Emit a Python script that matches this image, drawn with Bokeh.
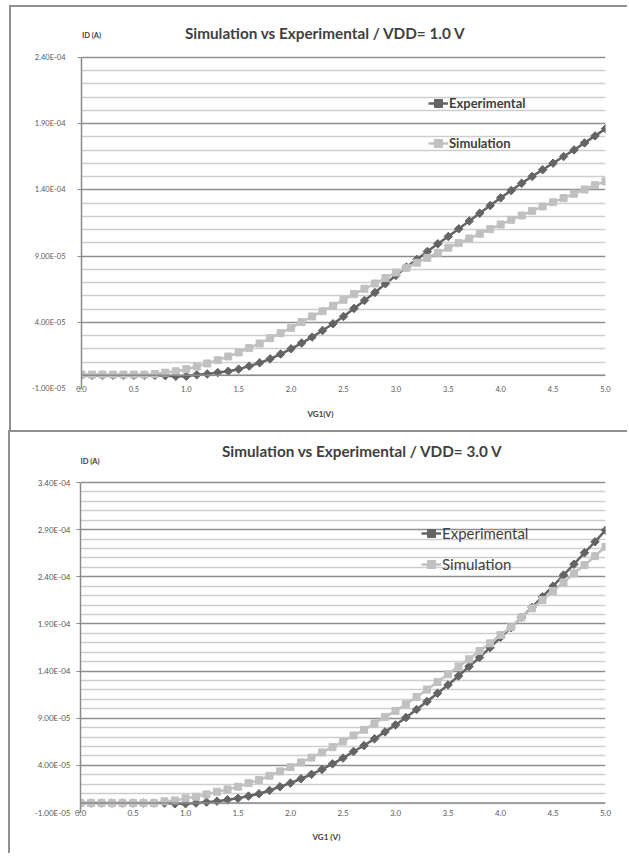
from bokeh.plotting import figure
from bokeh.models import (FixedTicker, CustomJSTickFormatter, Label, Legend, LegendItem,
                          Span, Title)
from bokeh.layouts import column
from bokeh.embed import file_html
from bokeh.resources import INLINE

# ---------------- data (currents in units of 1e-5 A) ----------------
SCALE = 1e-5
vg1 = [0.0, 0.1, 0.2, 0.3, 0.4, 0.5, 0.6, 0.7, 0.8, 0.9,
       1.0, 1.1, 1.2, 1.3, 1.4, 1.5, 1.6, 1.7, 1.8, 1.9,
       2.0, 2.1, 2.2, 2.3, 2.4, 2.5, 2.6, 2.7, 2.8, 2.9,
       3.0, 3.1, 3.2, 3.3, 3.4, 3.5, 3.6, 3.7, 3.8, 3.9,
       4.0, 4.1, 4.2, 4.3, 4.4, 4.5, 4.6, 4.7, 4.8, 4.9, 5.0]

exp_vdd1 = [0.0, 0.0, 0.0, 0.0, 0.0, 0.0, 0.0, 0.0, -0.03, -0.08,
            -0.08, 0.03, 0.1, 0.2, 0.3, 0.46, 0.69, 0.94, 1.24, 1.6,
            2.0, 2.43, 2.88, 3.38, 3.89, 4.44, 5.05, 5.65, 6.25, 6.91,
            7.54, 8.17, 8.75, 9.35, 9.93, 10.48, 11.06, 11.65, 12.24, 12.82,
            13.4, 13.95, 14.5, 15.02, 15.52, 16.02, 16.52, 17.02, 17.55, 18.08, 18.62]
sim_vdd1 = [0.05, 0.05, 0.05, 0.05, 0.05, 0.05, 0.05, 0.1, 0.2, 0.3,
            0.46, 0.66, 0.89, 1.14, 1.42, 1.72, 2.05, 2.4, 2.8, 3.18,
            3.58, 4.02, 4.44, 4.84, 5.25, 5.7, 6.13, 6.53, 6.93, 7.34,
            7.76, 8.12, 8.5, 8.87, 9.25, 9.63, 9.98, 10.33, 10.69, 11.04,
            11.39, 11.74, 12.07, 12.42, 12.75, 13.07, 13.38, 13.71, 14.03, 14.36, 14.64]

exp_vdd3 = [0.0, 0.0, 0.0, 0.0, 0.0, 0.0, 0.0, 0.0, 0.0, -0.08,
            -0.07, 0.0, 0.1, 0.2, 0.35, 0.5, 0.74, 0.99, 1.34, 1.73,
            2.12, 2.58, 3.05, 3.57, 4.16, 4.77, 5.47, 6.1, 6.81, 7.55,
            8.29, 9.07, 9.92, 10.77, 11.65, 12.53, 13.48, 14.48, 15.43, 16.49,
            17.58, 18.6, 19.7, 20.76, 21.89, 23.01, 24.18, 25.34, 26.55, 27.71, 28.94]
sim_vdd3 = [0.0, 0.0, 0.0, 0.0, 0.0, 0.0, 0.0, 0.0, 0.18, 0.28,
            0.5, 0.67, 0.92, 1.2, 1.45, 1.73, 2.12, 2.44, 2.9, 3.36,
            3.81, 4.31, 4.82, 5.37, 5.93, 6.53, 7.17, 7.77, 8.44, 9.14,
            9.78, 10.48, 11.26, 12.04, 12.85, 13.66, 14.48, 15.25, 16.13, 16.94,
            17.82, 18.65, 19.7, 20.65, 21.53, 22.48, 23.4, 24.36, 25.24, 26.19, 27.18]

x_ticks = [0.0, 0.5, 1.0, 1.5, 2.0, 2.5, 3.0, 3.5, 4.0, 4.5, 5.0]
x_tick_labels = ["0.0", "0.5", "1.0", "1.5", "2.0", "2.5", "3.0", "3.5", "4.0", "4.5", "5.0"]

y_ticks_1 = [-1e-5, 4e-5, 9e-5, 1.4e-4, 1.9e-4, 2.4e-4]
y_tick_labels_1 = ["-1.00E-05", "4.00E-05", "9.00E-05", "1.40E-04", "1.90E-04", "2.40E-04"]
y_ticks_3 = [-1e-5, 4e-5, 9e-5, 1.4e-4, 1.9e-4, 2.4e-4, 2.9e-4, 3.4e-4]
y_tick_labels_3 = ["-1.00E-05", "4.00E-05", "9.00E-05", "1.40E-04", "1.90E-04",
                   "2.40E-04", "2.90E-04", "3.40E-04"]

titles = ["Simulation vs Experimental / VDD= 1.0 V", "Simulation vs Experimental / VDD= 3.0 V"]
y_titles = ["ID (A)", "ID (A)"]
x_titles = ["VG1(V)", "VG1 (V)"]
series_names = ["Experimental", "Simulation"]

EXP_COLOR = "#646464"
SIM_COLOR = "#c0c0c0"
MAJOR_GRID = "#8e8e8e"
MINOR_GRID = "#cdcdcd"
AXIS_COLOR = "#8a8a8a"
TEXT_COLOR = "#404040"
TICK_COLOR = "#595959"
FONT = "Lato"

JS_FMT = """
let best = -1, bd = 1e99;
for (let i = 0; i < tks.length; i++) {
  const d = Math.abs(tks[i] - tick);
  if (d < bd) { bd = d; best = i; }
}
return (best >= 0 && bd < 1e-9) ? lbls[best] : "";
"""


def make_chart(cfg):
    ymin, ymax = cfg["yticks"][0], cfg["yticks"][-1]
    # plot area is (plot_h) px tall; the frame extends (extra_top) px higher to hold the title
    px_per_unit = cfg["plot_h"] / (ymax - ymin)
    y_top = ymax + cfg["extra_top"] / px_per_unit

    p = figure(width=cfg["w"], height=cfg["h"], x_range=(0, 5), y_range=(ymin, y_top),
               output_backend="svg", toolbar_location=None,
               min_border_left=cfg["bl"], min_border_right=cfg["br"],
               min_border_top=cfg["bt"], min_border_bottom=cfg["bb"])
    p.margin = cfg["margin"]
    p.outline_line_color = None
    p.background_fill_color = "white"
    p.border_fill_color = "white"
    p.styles = {"border-left": "2px solid #8f8f8f", "border-top": "2px solid #8f8f8f"}

    minor = [round(k * SCALE, 10) for k in range(-1, int(round(ymax / SCALE)) + 1)]
    minor = [m for m in minor if all(abs(m - t) > 1e-12 for t in cfg["yticks"])]
    yt = FixedTicker(ticks=cfg["yticks"], minor_ticks=minor)

    ax = p.yaxis[0]
    ax.ticker = yt
    ax.formatter = CustomJSTickFormatter(args=dict(tks=cfg["yticks"], lbls=cfg["ylabels"]), code=JS_FMT)
    ax.bounds = (ymin, ymax)
    ax.axis_line_color = AXIS_COLOR
    ax.axis_line_width = 1.5
    ax.major_tick_line_color = AXIS_COLOR
    ax.major_tick_out = 4
    ax.major_tick_in = 0
    ax.minor_tick_out = 0
    ax.minor_tick_in = 0
    ax.major_label_standoff = cfg["ystand"]
    ax.major_label_text_font = FONT
    ax.major_label_text_font_size = cfg["tick_fs"]
    ax.major_label_text_color = TICK_COLOR

    p.ygrid.ticker = yt
    p.ygrid.bounds = (ymin, ymax)
    p.ygrid.grid_line_color = MAJOR_GRID
    p.ygrid.grid_line_width = 1.3
    p.ygrid.minor_grid_line_color = MINOR_GRID
    p.ygrid.minor_grid_line_width = 1.3
    p.xgrid.visible = False

    # x tick labels (along the bottom of the plot area)
    xt = FixedTicker(ticks=x_ticks, minor_ticks=[])
    bx = p.xaxis[0]
    bx.ticker = xt
    bx.formatter = CustomJSTickFormatter(args=dict(tks=x_ticks, lbls=x_tick_labels), code=JS_FMT)
    bx.axis_line_color = None
    bx.major_tick_line_color = None
    bx.major_tick_in = 0
    bx.major_tick_out = 0
    bx.minor_tick_in = 0
    bx.minor_tick_out = 0
    bx.major_label_standoff = -3
    bx.major_label_text_font = FONT
    bx.major_label_text_font_size = cfg["tick_fs"]
    bx.major_label_text_color = TICK_COLOR

    # horizontal axis line crossing at ID = 0
    p.add_layout(Span(location=0, dimension="width", line_color=AXIS_COLOR, line_width=1.5))

    exp_vals = [v * SCALE for v in cfg["exp"]]
    sim_vals = [v * SCALE for v in cfg["sim"]]
    l1 = p.line(vg1, exp_vals, line_color=EXP_COLOR, line_width=2.5)
    s1 = p.scatter(vg1, exp_vals, marker="square", angle=0.785398, size=6,
                   fill_color=EXP_COLOR, line_color=EXP_COLOR)
    l2 = p.line(vg1, sim_vals, line_color=SIM_COLOR, line_width=2.5)
    s2 = p.scatter(vg1, sim_vals, marker="square", size=7,
                   fill_color=SIM_COLOR, line_color=SIM_COLOR)

    leg = Legend(items=[LegendItem(label=series_names[0], renderers=[l1, s1]),
                        LegendItem(label=series_names[1], renderers=[l2, s2])],
                 location=cfg["leg_loc"], orientation="vertical",
                 padding=0, margin=0, spacing=cfg["leg_sp"],
                 glyph_width=20, glyph_height=20, label_height=20, label_standoff=1,
                 background_fill_alpha=0, border_line_alpha=0,
                 label_text_font=FONT, label_text_font_size=cfg["leg_fs"],
                 label_text_font_style=cfg["leg_style"], label_text_color=TEXT_COLOR)
    p.add_layout(leg, "center")

    p.add_layout(Label(x=cfg["title_xy"][0], y=cfg["title_xy"][1], x_units="screen", y_units="screen",
                       text=cfg["title"], text_align="center", text_baseline="middle",
                       text_font=FONT, text_font_size=cfg["title_fs"], text_font_style="bold",
                       text_color=TEXT_COLOR))
    p.add_layout(Label(x=cfg["yt_xy"][0], y=cfg["yt_xy"][1], x_units="screen", y_units="screen",
                       text=cfg["ytitle"], text_align="left", text_baseline="middle",
                       text_font=FONT, text_font_size="7.5px", text_font_style="bold",
                       text_color=TEXT_COLOR))
    p.add_layout(Title(text=cfg["xtitle"], align="left", offset=cfg["xt_off"],
                       standoff=cfg["xt_stand"], text_font=FONT, text_font_size="8px",
                       text_font_style="bold", text_color=TEXT_COLOR), "below")
    return p


p1 = make_chart(dict(w=618, h=425, bl=70, br=24, bt=8, bb=44, margin=(5, 0, 0, 9),
                     plot_h=331, extra_top=42,
                     yticks=y_ticks_1, ylabels=y_tick_labels_1, ystand=12, tick_fs="7.5px",
                     exp=exp_vdd1, sim=sim_vdd1,
                     leg_loc=(347, 235), leg_sp=20, leg_fs="13px", leg_style="bold",
                     title=titles[0], title_fs="15.3px", title_xy=(244, 356),
                     ytitle=y_titles[0], yt_xy=(0.5, 353),
                     xtitle=x_titles[0], xt_off=226, xt_stand=24))
p2 = make_chart(dict(w=619, h=423, bl=70, br=19, bt=8, bb=43, margin=(0, 0, 0, 8),
                     plot_h=330, extra_top=42,
                     yticks=y_ticks_3, ylabels=y_tick_labels_3, ystand=6, tick_fs="8px",
                     exp=exp_vdd3, sim=sim_vdd3,
                     leg_loc=(341, 238), leg_sp=11, leg_fs="15px", leg_style="normal",
                     title=titles[1], title_fs="15.3px", title_xy=(282, 362),
                     ytitle=y_titles[1], yt_xy=(0, 351),
                     xtitle=x_titles[1], xt_off=232, xt_stand=23))

layout = column(p1, p2, spacing=0)
open("out.html", "w").write(file_html(layout, INLINE))
